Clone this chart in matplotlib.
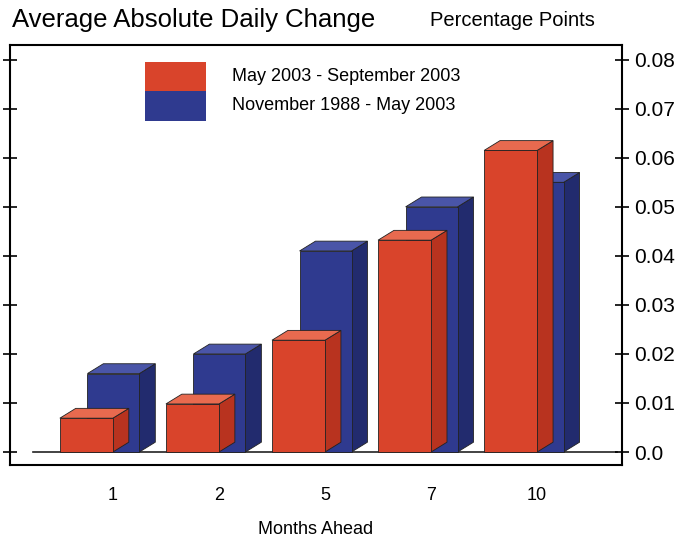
import matplotlib.pyplot as plt
from matplotlib.patches import Polygon, Rectangle

plt.rcParams['font.family'] = ['Liberation Sans', 'DejaVu Sans']

months = ['1', '2', '5', '7', '10']
recent = [0.0069, 0.0098, 0.0228, 0.0432, 0.0615]   # May 2003 - Sep 2003
longrun = [0.0160, 0.0200, 0.0410, 0.0500, 0.0550]  # Nov 1988 - May 2003

red, red_side, red_top = '#d9442b', '#b8331f', '#e86a4f'
blue, blue_side, blue_top = '#2f3a8f', '#222b6e', '#4a55a8'

fig = plt.figure(figsize=(6.97, 5.41), dpi=100)
ax = fig.add_axes([10/697, 76/541, 612/697, 420/541])

dx, dy = 0.15, 0.002

def bar3d(x0, w, h, c, cs, ct):
    front = Polygon([(x0, 0), (x0 + w, 0), (x0 + w, h), (x0, h)], closed=True,
                    facecolor=c, edgecolor='#222222', lw=0.6)
    side = Polygon([(x0 + w, 0), (x0 + w + dx, dy), (x0 + w + dx, h + dy), (x0 + w, h)],
                   closed=True, facecolor=cs, edgecolor='#222222', lw=0.6)
    top = Polygon([(x0, h), (x0 + w, h), (x0 + w + dx, h + dy), (x0 + dx, h + dy)],
                  closed=True, facecolor=ct, edgecolor='#222222', lw=0.6)
    for p in (side, top, front):
        ax.add_patch(p)

ax.plot([-0.75, 4.75], [0, 0], color='#222222', lw=1.2, zorder=0)
for i in range(len(months)):
    bar3d(i - 0.24, 0.49, longrun[i], blue, blue_side, blue_top)
    bar3d(i - 0.5, 0.5, recent[i], red, red_side, red_top)

ax.set_xlim(-0.97, 4.8)
ax.set_ylim(-0.00265, 0.083)
ax.set_xticks(range(len(months)))
ax.set_xticklabels(months, fontsize=13)
ax.tick_params(axis='x', length=0, pad=16)
ax.yaxis.tick_right()
ax.set_yticks([0, 0.01, 0.02, 0.03, 0.04, 0.05, 0.06, 0.07, 0.08])
ax.set_yticklabels(['0.0', '0.01', '0.02', '0.03', '0.04', '0.05', '0.06', '0.07', '0.08'], fontsize=15)
ax.tick_params(axis='y', direction='inout', length=10, width=1.2, pad=4, left=True)
for s in ax.spines.values():
    s.set_linewidth(1.5)

# legend
ax.add_patch(Rectangle((0.22, 0.89), 0.1, 0.07, transform=ax.transAxes, facecolor=red, edgecolor='none'))
ax.add_patch(Rectangle((0.22, 0.82), 0.1, 0.07, transform=ax.transAxes, facecolor=blue, edgecolor='none'))
ax.text(0.363, 0.925, 'May 2003 - September 2003', transform=ax.transAxes, fontsize=13, va='center')
ax.text(0.363, 0.855, 'November 1988 - May 2003', transform=ax.transAxes, fontsize=13, va='center')

fig.text(12/697, 1 - 20/541, 'Average Absolute Daily Change', fontsize=18.5, va='center')
fig.text(430/697, 1 - 20/541, 'Percentage Points', fontsize=14.5, va='center')
fig.text(316/697, 1 - 529/541, 'Months Ahead', fontsize=13, ha='center', va='center')

fig.savefig('out.png')
